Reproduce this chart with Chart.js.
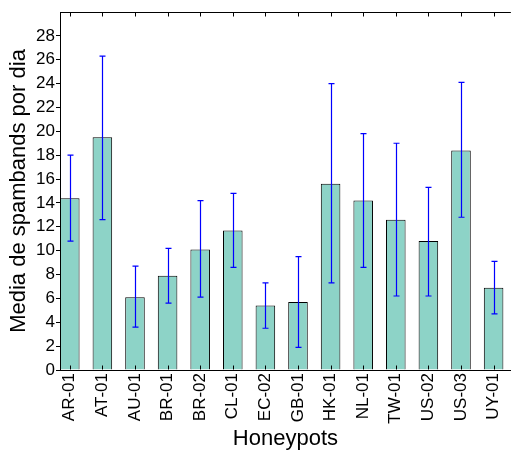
<!DOCTYPE html>
<html>
<head>
<meta charset="utf-8">
<script src="https://cdn.jsdelivr.net/npm/chart.js"></script>
<style>
  html, body { margin: 0; padding: 0; background: #fff; overflow: hidden; }
</style>
</head>
<body>
<canvas id="barChart" width="517" height="452"></canvas>
<script>
const honeypots = [
  "AR-01", "AT-01", "AU-01", "BR-01", "BR-02", "CL-01", "EC-02",
  "GB-01", "HK-01", "NL-01", "TW-01", "US-02", "US-03", "UY-01",
];
const medias = [14.4, 19.5, 6.1, 7.9, 10.1, 11.7, 5.4, 5.7, 15.6, 14.2, 12.6, 10.8, 18.4, 6.9];
const errLow = [10.8, 12.6, 3.6, 5.6, 6.1, 8.6, 3.5, 1.9, 7.3, 8.6, 6.2, 6.2, 12.8, 4.7];
const errHigh = [18.0, 26.3, 8.7, 10.2, 14.2, 14.8, 7.3, 9.5, 24.0, 19.8, 19.0, 15.3, 24.1, 9.1];
const yTicks = [0, 2, 4, 6, 8, 10, 12, 14, 16, 18, 20, 22, 24, 26, 28];

Chart.defaults.font.family = "'Liberation Sans', Arial, sans-serif";
Chart.defaults.color = "#000";

// error bars + frame with inward ticks, like the original plot
const extras = {
  id: "extras",
  afterDatasetsDraw(chart) {
    const { ctx, chartArea } = chart;
    const xs = chart.scales.x;
    const ys = chart.scales.y;
    ctx.save();

    ctx.strokeStyle = "#0000ff";
    ctx.lineWidth = 1.2;
    honeypots.forEach((_, i) => {
      const x = Math.round(xs.getPixelForValue(i)) + 0.5;
      const yLo = ys.getPixelForValue(errLow[i]);
      const yHi = ys.getPixelForValue(errHigh[i]);
      ctx.beginPath();
      ctx.moveTo(x, yLo);
      ctx.lineTo(x, yHi);
      ctx.moveTo(x - 3, yLo);
      ctx.lineTo(x + 3, yLo);
      ctx.moveTo(x - 3, yHi);
      ctx.lineTo(x + 3, yHi);
      ctx.stroke();
    });

    ctx.strokeStyle = "#000";
    ctx.lineWidth = 1;
    const top = Math.round(chartArea.top) + 0.5;
    const bottom = Math.round(chartArea.bottom) - 0.5;
    ctx.beginPath();
    ctx.moveTo(chartArea.left, top);
    ctx.lineTo(chartArea.right, top);
    honeypots.forEach((_, i) => {
      const x = Math.round(xs.getPixelForValue(i)) + 0.5;
      ctx.moveTo(x, top);
      ctx.lineTo(x, top + 4);
      ctx.moveTo(x, bottom);
      ctx.lineTo(x, bottom - 4);
    });
    ctx.stroke();
    ctx.restore();
  },
};

const data = {
  datasets: [
    {
      data: medias.map((v, i) => ({ x: i, y: v })),
      backgroundColor: "#8dd3c7",
      borderColor: "#000",
      borderWidth: 1,
      categoryPercentage: 1,
      barPercentage: 0.6,
    },
  ],
};

new Chart(document.getElementById("barChart"), {
  type: "bar",
  data: data,
  plugins: [extras],
  options: {
    responsive: false,
    animation: false,
    devicePixelRatio: 1,
    layout: { padding: { top: 12, left: 0, right: 0, bottom: 0 } },
    plugins: {
      legend: { display: false },
      tooltip: { enabled: false },
    },
    scales: {
      x: {
        type: "linear",
        offset: false,
        min: -0.3,
        max: 13.53,
        afterBuildTicks: (scale) => {
          scale.ticks = honeypots.map((_, i) => ({ value: i }));
        },
        afterFit: (scale) => {
          scale.height = 82;
        },
        grid: { display: true, drawOnChartArea: false, drawTicks: false },
        border: { display: true, color: "#000", width: 1 },
        ticks: {
          autoSkip: false,
          minRotation: 90,
          maxRotation: 90,
          padding: 3,
          font: { size: 17 },
          callback: (value) => honeypots[value],
        },
        title: {
          display: true,
          text: "Honeypots",
          font: { size: 22 },
          padding: { top: 0, bottom: 0 },
        },
      },
      y: {
        min: 0,
        max: 30,
        afterBuildTicks: (scale) => {
          scale.ticks = yTicks.map((v) => ({ value: v }));
        },
        afterFit: (scale) => {
          scale.width = 60;
        },
        grid: { display: true, drawOnChartArea: false, drawTicks: true, tickLength: 4, color: "#000" },
        border: { display: true, color: "#000", width: 1 },
        ticks: {
          padding: 1,
          font: { size: 17 },
        },
        title: {
          display: true,
          text: "Media de spambands por dia",
          font: { size: 22 },
          padding: { top: 6, bottom: 0 },
        },
      },
    },
  },
});
</script>
</body>
</html>
